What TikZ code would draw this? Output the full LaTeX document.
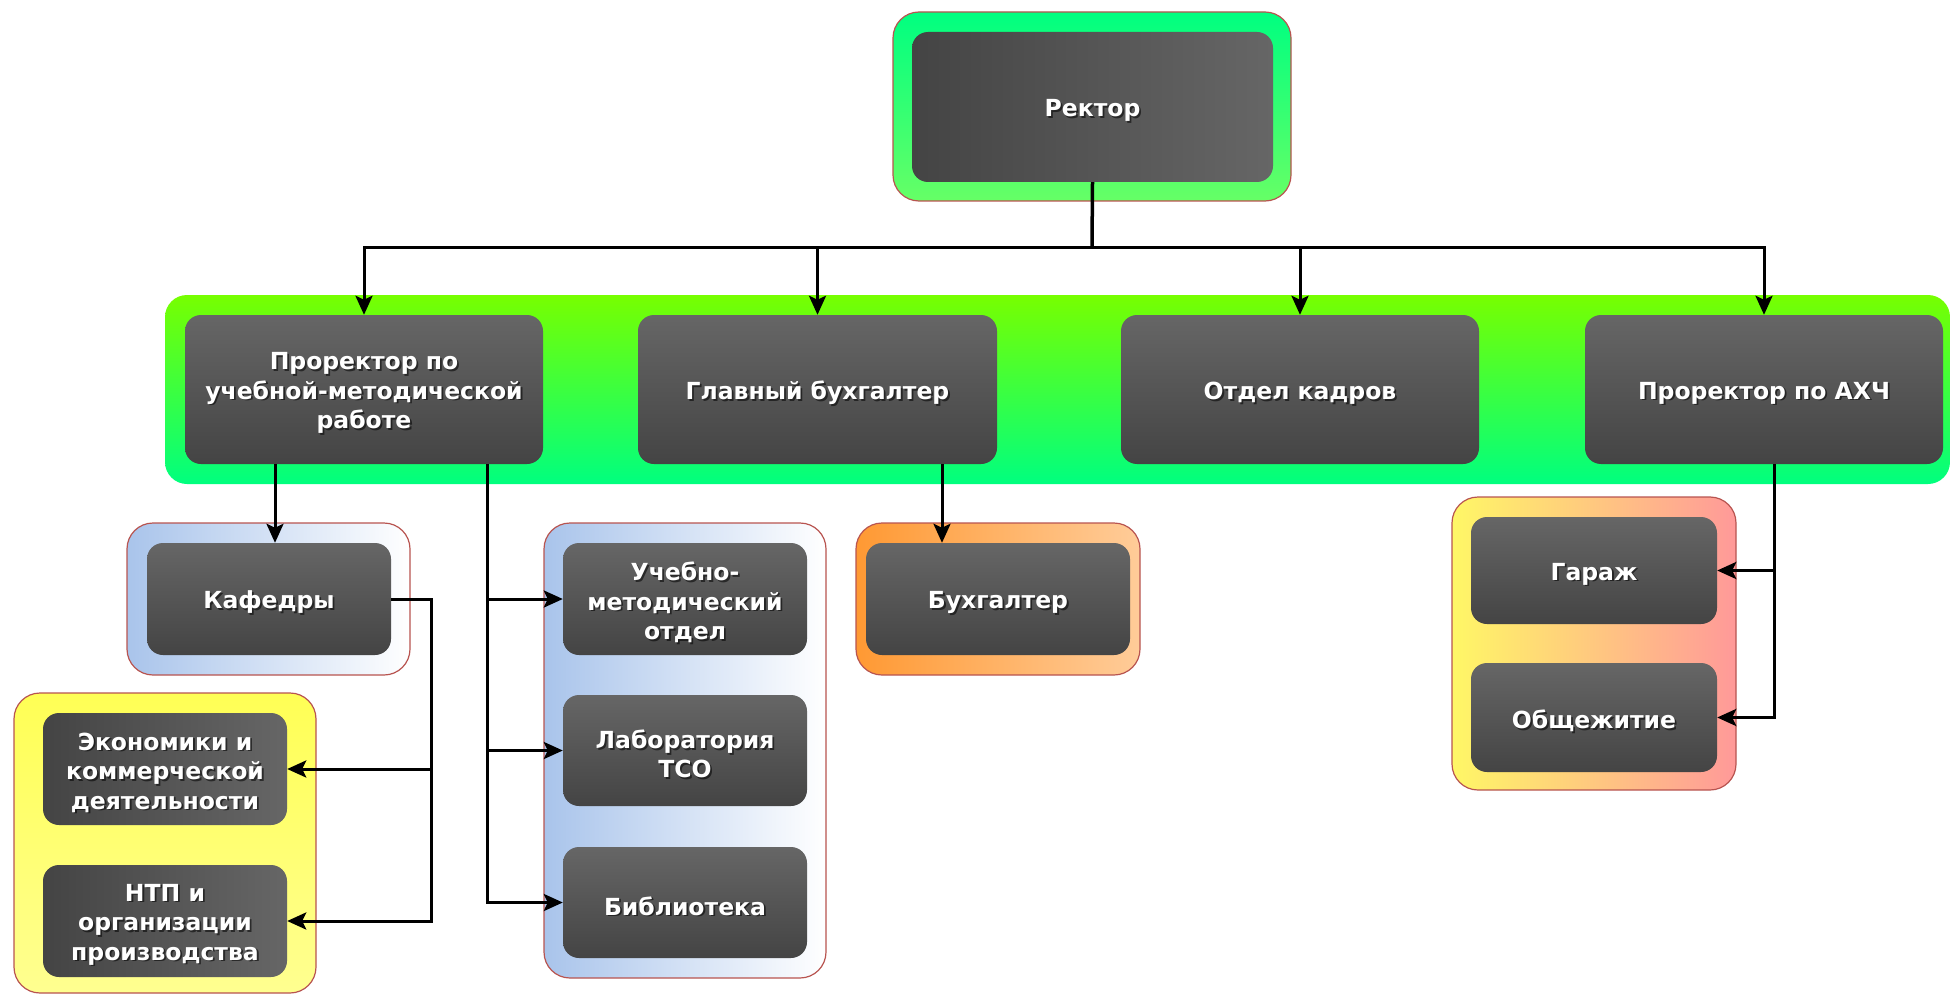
\documentclass[tikz,border=0pt]{standalone}
\usepackage{fontspec}
\setmainfont{DejaVu Sans}
\usetikzlibrary{arrows.meta}
\definecolor{dkA}{HTML}{666666}
\definecolor{dkB}{HTML}{444444}
\definecolor{grpBorder}{HTML}{B85450}
\definecolor{gTopA}{HTML}{00FF80}
\definecolor{gBotA}{HTML}{66FF66}
\definecolor{bandTop}{HTML}{77FF00}
\definecolor{bandBot}{HTML}{00FF7F}
\definecolor{blueL}{HTML}{A9C4EB}
\definecolor{orgL}{HTML}{FF9933}
\definecolor{orgR}{HTML}{FFCC99}
\definecolor{yelL}{HTML}{FFF766}
\definecolor{redR}{HTML}{FF9999}
\definecolor{yelTop}{HTML}{FFFF55}
\definecolor{yelBot}{HTML}{FFFF90}
\tikzset{
  grp/.style={draw=grpBorder, line width=1.2pt, rounded corners=26pt, inner sep=0pt},
  dbox/.style={rounded corners=16pt, top color=dkA, bottom color=dkB, inner sep=0pt},
  dboxh/.style={dbox, left color=dkB, right color=dkA},
  btext/.style={text=white, align=center, inner sep=0pt, font=\bfseries\fontsize{23.5}{29.5}\selectfont},
  bshadow/.style={btext, text=black, text opacity=0.55},
  conn/.style={line width=3pt, draw=black},
  arr/.style={conn, -{Stealth[length=19pt,width=17pt,inset=4pt]}},
}
% \orgbox{style}{name}{x}{y}{w}{h}{text}
\newcommand\orgbox[7]{%
  \node[#1, minimum width=#5pt, minimum height=#6pt] (#2) at (#3,#4) {};
  \node[bshadow] (#2-sh) at ([shift={(1.8,5.3)}]#2.center) {#7};
  \node[btext] (#2-tx) at ([shift={(0,3.5)}]#2.center) {#7};
}
\begin{document}
\begin{tikzpicture}[x=1pt,y=-1pt]
\useasboundingbox (0,0) rectangle (1951,995);
% groups
\node[grp, top color=gTopA, bottom color=gBotA, minimum width=398pt, minimum height=189pt] (rectorgrp) at (1092,106.5) {};
\node[grp, draw=none, rounded corners=22pt, top color=bandTop, bottom color=bandBot, minimum width=1785pt, minimum height=189pt] (band) at (1057.5,389.5) {};
\node[grp, left color=blueL, right color=white, minimum width=283pt, minimum height=152pt] (kafgrp) at (268.5,599) {};
\node[grp, top color=yelTop, bottom color=yelBot, minimum width=302pt, minimum height=300pt] (yelgrp) at (165,843) {};
\node[grp, left color=blueL, right color=white, minimum width=282pt, minimum height=455pt] (uchgrp) at (685,750.5) {};
\node[grp, left color=orgL, right color=orgR, minimum width=284pt, minimum height=152pt] (bukhgrp) at (998,599) {};
\node[grp, left color=yelL, right color=redR, minimum width=284pt, minimum height=293pt] (ahgrp) at (1594,643.5) {};
% boxes
\orgbox{dboxh}{rector}{1092.5}{107}{361}{150}{Ректор}
\orgbox{dbox}{p1}{364}{389.5}{358}{149}{Проректор по\\учебной-методической\\работе}
\orgbox{dbox}{p2}{817.5}{389.5}{359}{149}{Главный бухгалтер}
\orgbox{dbox}{p3}{1300}{389.5}{358}{149}{Отдел кадров}
\orgbox{dbox}{p4}{1764}{389.5}{358}{149}{Проректор по АХЧ}
\orgbox{dbox}{kaf}{269}{599}{244}{112}{Кафедры}
\orgbox{dboxh}{ek}{165}{769}{244}{112}{Экономики и\\коммерческой\\деятельности}
\orgbox{dboxh}{ntp}{165}{921}{244}{112}{НТП и\\организации\\производства}
\orgbox{dbox}{uch}{685}{599}{244}{112}{Учебно-\\методический\\отдел}
\orgbox{dbox}{lab}{685}{750.5}{244}{111}{Лаборатория\\ТСО}
\orgbox{dbox}{bib}{685}{902.5}{244}{111}{Библиотека}
\orgbox{dbox}{bukh}{998}{599}{264}{112}{Бухгалтер}
\orgbox{dbox}{gar}{1594}{570.5}{246}{107}{Гараж}
\orgbox{dbox}{obs}{1594}{717.5}{246}{109}{Общежитие}
% connectors
\coordinate (bus) at (1092,247);
\draw[conn, line width=3.5pt] (rector.south) -- (bus);
\draw[arr] (bus) -| (p1.north);
\draw[arr] (bus) -| (p2.north);
\draw[arr] (bus) -| (p3.north);
\draw[arr] (bus) -| (p4.north);
\coordinate (kafdown) at ([xshift=-89pt]p1.south);
\draw[arr] (kafdown) -- (kafdown |- kaf.north);
\coordinate (uchdown) at ([xshift=123pt]p1.south);
\draw[arr] (uchdown) |- (uch.west);
\draw[arr] (uchdown) |- (lab.west);
\draw[arr] (uchdown) |- (bib.west);
\coordinate (kx) at ([xshift=40pt]kaf.east);
\draw[arr] (kaf.east) -- (kx) |- (ek.east);
\draw[arr] (kx) |- (ntp.east);
\coordinate (bukhdown) at ([xshift=124.5pt]p2.south);
\draw[arr] (bukhdown) -- (bukhdown |- bukh.north);
\coordinate (ahdown) at ([xshift=10pt]p4.south);
\draw[arr] (ahdown) |- (gar.east);
\draw[arr] (ahdown) |- (obs.east);
\end{tikzpicture}
\end{document}
